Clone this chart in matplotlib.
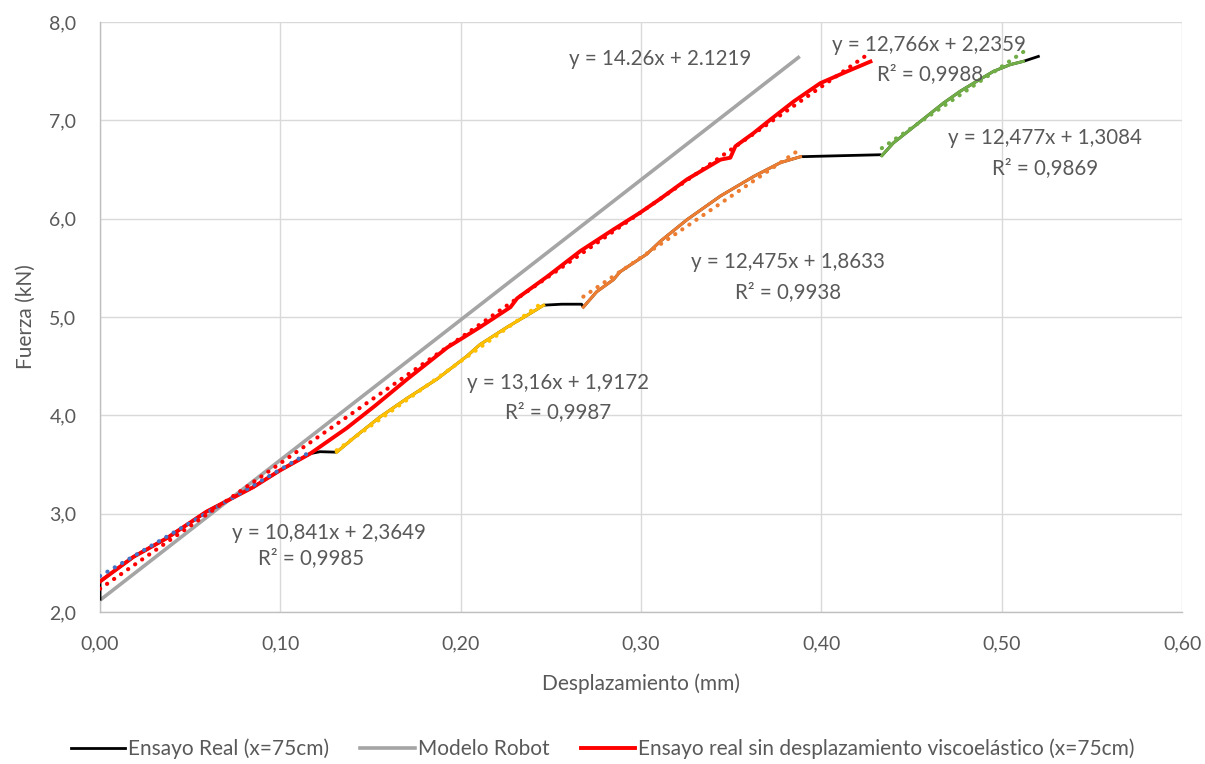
import matplotlib
matplotlib.use("Agg")
import matplotlib.pyplot as plt
from matplotlib.lines import Line2D

plt.rcParams["font.family"] = ["Lato", "DejaVu Sans"]

# Ensayo Real (x=75cm): full test curve, including the plateaus
real_x = [0.0, 0.0, 0.0185, 0.037, 0.059, 0.085, 0.0998, 0.1165, 0.122, 0.1312,
          0.142, 0.155, 0.170, 0.187, 0.2033, 0.2107, 0.226, 0.238, 0.246, 0.256,
          0.267, 0.268, 0.2754, 0.2847, 0.2884, 0.3032, 0.3107, 0.3255, 0.344,
          0.3625, 0.3773, 0.3884, 0.41, 0.4327, 0.4335, 0.4399, 0.4492, 0.4584,
          0.4677, 0.4769, 0.4861, 0.4954, 0.5046, 0.512, 0.5203]
real_y = [2.13, 2.31, 2.56, 2.75, 3.02, 3.27, 3.44, 3.61, 3.63, 3.625,
          3.79, 3.98, 4.17, 4.37, 4.60, 4.72, 4.90, 5.03, 5.12, 5.13,
          5.13, 5.10, 5.257, 5.38, 5.46, 5.64, 5.77, 5.99, 6.23,
          6.43, 6.57, 6.63, 6.64, 6.65, 6.64, 6.77, 6.905, 7.04,
          7.176, 7.295, 7.397, 7.498, 7.566, 7.60, 7.65]

# Modelo Robot
robot_x = [0.0, 0.388]
robot_y = [2.12, 7.65]

# Ensayo real sin desplazamiento viscoelastico (x=75cm)
sin_x = [0.0, 0.0185, 0.037, 0.059, 0.085, 0.0998, 0.1165, 0.1368, 0.1527, 0.1705,
         0.1926, 0.211, 0.2276, 0.2313, 0.2479, 0.2663, 0.2847, 0.2994, 0.3105,
         0.3255, 0.344, 0.3495, 0.3523, 0.3625, 0.3717, 0.3847, 0.3994, 0.4142, 0.4272]
sin_y = [2.31, 2.56, 2.75, 3.02, 3.27, 3.44, 3.61, 3.87, 4.10, 4.37,
         4.69, 4.90, 5.10, 5.19, 5.41, 5.67, 5.89, 6.06, 6.20,
         6.40, 6.60, 6.62, 6.736, 6.872, 7.007, 7.193, 7.378, 7.497, 7.598]

# loading segments of the real test (coloured, not in legend), index ranges into real_x
seg_colors = ["#4472C4", "#FFC000", "#ED7D31", "#70AD47"]
seg_idx = [(1, 7), (9, 18), (21, 31), (34, 43)]

# linear trendlines (slope, intercept) as printed on the chart
trend_colors = ["#4472C4", "#FFC000", "#ED7D31", "#70AD47", "#FF0000"]
trend_ranges = [(0.0, 0.1165), (0.1312, 0.246), (0.268, 0.388), (0.4335, 0.512), (0.0, 0.427)]
trend_m = [10.841, 13.16, 12.475, 12.477, 12.766]
trend_b = [2.3649, 1.9172, 1.8633, 1.3084, 2.2359]

label_lines = [
    ("y = 14.26x + 2.1219", 0.3105, 7.624),
    ("y = 12,766x + 2,2359", 0.4597, 7.766), ("R² = 0,9988", 0.4603, 7.471),
    ("y = 12,477x + 1,3084", 0.5241, 6.82), ("R² = 0,9869", 0.5241, 6.515),
    ("y = 12,475x + 1,8633", 0.3813, 5.56), ("R² = 0,9938", 0.3813, 5.254),
    ("y = 13,16x + 1,9172", 0.2540, 4.329), ("R² = 0,9987", 0.2540, 4.034),
    ("y = 10,841x + 2,3649", 0.1270, 2.803), ("R² = 0,9985", 0.1170, 2.549),
]

txt = "#595959"
fig = plt.figure(figsize=(12.05, 7.64), dpi=100)
ax = fig.add_axes([0.083, 0.199, 0.898, 0.7722])

ax.plot(robot_x, robot_y, color="#A5A5A5", lw=2.6, solid_capstyle="butt", zorder=3)
ax.plot(real_x, real_y, color="black", lw=2.0, zorder=4)
for (i0, i1), c in zip(seg_idx, seg_colors):
    ax.plot(real_x[i0:i1 + 1], real_y[i0:i1 + 1], color=c, lw=2.2, zorder=5)
ax.plot(sin_x, sin_y, color="#FF0000", lw=2.8, zorder=6)

for (x0, x1), c, m, b in zip(trend_ranges, trend_colors, trend_m, trend_b):
    ax.plot([x0, x1], [m * x0 + b, m * x1 + b], color=c, lw=3.0,
            linestyle=(0, (0.05, 2.0)), dash_capstyle="round", zorder=7)

for s, x, y in label_lines:
    ax.text(x, y, s, ha="center", va="center", fontsize=14.8, color=txt, zorder=8)

ax.set_xlim(0, 0.6)
ax.set_ylim(2.0, 8.0)
ax.set_xticks([0.0, 0.1, 0.2, 0.3, 0.4, 0.5, 0.6])
ax.set_yticks([2, 3, 4, 5, 6, 7, 8])
ax.set_xticklabels([f"{v:.2f}".replace(".", ",") for v in ax.get_xticks()])
ax.set_yticklabels([f"{v:.1f}".replace(".", ",") for v in ax.get_yticks()])
ax.tick_params(length=0, labelsize=14, colors=txt)
ax.tick_params(axis="x", pad=17)
ax.tick_params(axis="y", pad=17)
ax.grid(True, color="#D9D9D9", lw=1.0)
ax.set_axisbelow(True)
for side in ["top", "right"]:
    ax.spines[side].set_visible(False)
for side in ["left", "bottom"]:
    ax.spines[side].set_color("#BFBFBF")
    ax.spines[side].set_linewidth(1.0)

ax.set_xlabel("Desplazamiento (mm)", fontsize=15, color=txt, labelpad=15)
ax.set_ylabel("Fuerza (kN)", fontsize=15, color=txt, labelpad=10)

handles = [Line2D([], [], color="black", lw=2.0),
           Line2D([], [], color="#A5A5A5", lw=2.6),
           Line2D([], [], color="#FF0000", lw=2.8)]
names = ["Ensayo Real (x=75cm)", "Modelo Robot",
         "Ensayo real sin desplazamiento viscoelástico (x=75cm)"]
leg = fig.legend(handles, names, loc="lower center", bbox_to_anchor=(0.5, -0.018),
                 ncol=3, frameon=False, fontsize=15, handlelength=2.6,
                 handletextpad=0.15, columnspacing=1.5)
for t in leg.get_texts():
    t.set_color(txt)

fig.savefig("out.png", dpi=100)
